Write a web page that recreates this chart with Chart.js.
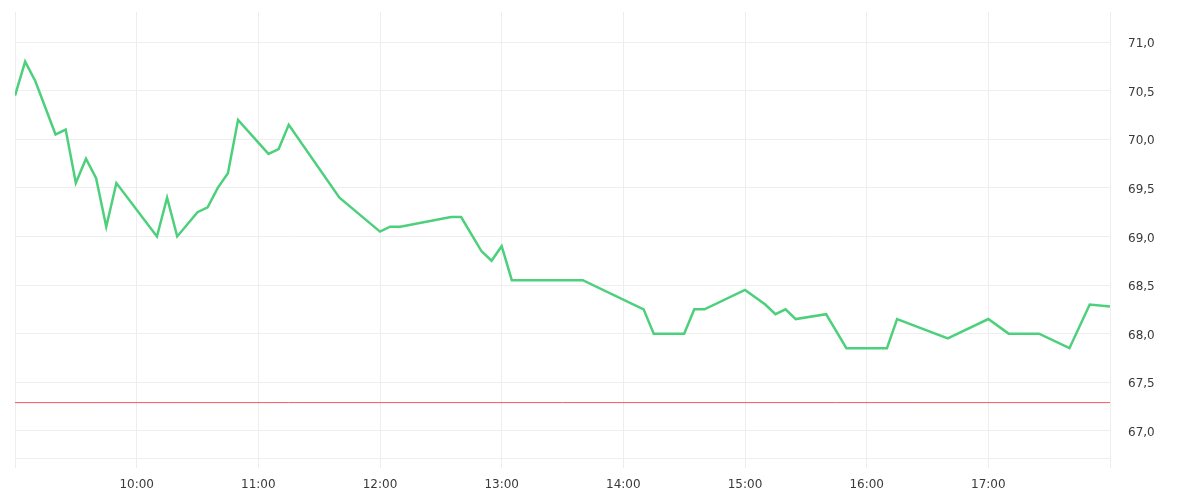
<!DOCTYPE html>
<html>
<head>
<meta charset="utf-8">
<script src="https://cdn.jsdelivr.net/npm/chart.js@4"></script>
<style>
html,body{margin:0;padding:0;background:#fff;}
#wrap{width:1200px;height:500px;position:relative;}
</style>
</head>
<body>
<div id="wrap"><canvas id="c"></canvas></div>
<script>
const times = ['09:00','09:05','09:10','09:20','09:25','09:30','09:35','09:40','09:45','09:50',
  '10:10','10:15','10:20','10:30','10:35','10:40','10:45','10:50','11:05','11:10','11:15','11:40',
  '12:00','12:05','12:10','12:35','12:40','12:50','12:55','13:00','13:05','13:40','14:10','14:15',
  '14:30','14:35','14:40','15:00','15:10','15:15','15:20','15:25','15:40','15:50','16:10','16:15',
  '16:40','17:00','17:10','17:25','17:40','17:50','18:00'];
const prices = [70.45,70.8,70.6,70.05,70.1,69.55,69.8,69.6,69.1,69.55,
  69.0,69.4,69.0,69.25,69.3,69.5,69.65,70.2,69.85,69.9,70.15,69.4,
  69.05,69.1,69.1,69.2,69.2,68.85,68.75,68.9,68.55,68.55,68.25,68.0,
  68.0,68.25,68.25,68.45,68.3,68.2,68.25,68.15,68.2,67.85,67.85,68.15,
  67.95,68.15,68.0,68.0,67.85,68.3,68.28];
const refLevel = 67.29;
const xTickLabels = ['10:00','11:00','12:00','13:00','14:00','15:00','16:00','17:00'];
const yTickValues = [67.0,67.5,68.0,68.5,69.0,69.5,70.0,70.5,71.0];
const sessionStart = '09:00';
const sessionEnd = '18:00';
const yMin = 66.72, yMax = 71.31;

function toMin(s){const p=s.split(':');return (+p[0])*60+(+p[1]);}
function toLabel(m){const h=Math.floor(m/60),mm=m%60;return String(h).padStart(2,'0')+':'+String(mm).padStart(2,'0');}

const xMin = toMin(sessionStart), xMax = toMin(sessionEnd);
const priceData = times.map((t,i)=>({x:toMin(t), y:prices[i]}));
const refData = [{x:xMin,y:refLevel},{x:xMax,y:refLevel}];

const gridColor = '#eeeeee';
const font = {family:'DejaVu Sans', size:12};

new Chart(document.getElementById('c'), {
  type:'line',
  data:{datasets:[
    {data:refData, borderColor:'#f05a5f', borderWidth:1, pointRadius:0, tension:0},
    {data:priceData, borderColor:'#4dd07c', borderWidth:2.5, pointRadius:0, tension:0}
  ]},
  options:{
    responsive:true, maintainAspectRatio:false, animation:false,
    layout:{padding:{left:15, top:12, right:0, bottom:0}},
    plugins:{legend:{display:false}, tooltip:{enabled:false}},
    scales:{
      x:{type:'linear', min:xMin, max:xMax,
        grid:{color:gridColor, tickLength:10, drawTicks:true, tickColor:gridColor},
        border:{display:true, color:gridColor},
        ticks:{stepSize:60, autoSkip:false, maxRotation:0, padding:10, color:'#3a3a3a', font:font,
          callback:function(v){const l=toLabel(v);return xTickLabels.includes(l)?l:'';}},
        afterFit:function(s){s.height=42; s.paddingLeft=0; s.paddingRight=0;}
      },
      y:{type:'linear', position:'right', min:yMin, max:yMax,
        grid:{color:gridColor, drawTicks:false},
        border:{display:true, color:gridColor},
        afterBuildTicks:function(s){s.ticks=yTickValues.map(v=>({value:v}));},
        ticks:{padding:18, labelOffset:2, color:'#3a3a3a', font:font,
          callback:function(v){return v.toFixed(1).replace('.',',');}},
        afterFit:function(s){s.width=90; s.paddingTop=0; s.paddingBottom=0;}
      }
    }
  }
});
</script>
</body>
</html>
